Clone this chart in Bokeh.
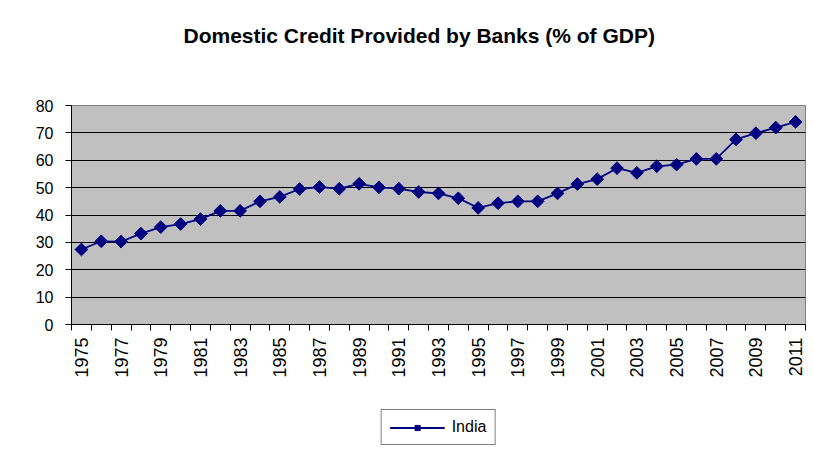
import math
from bokeh.plotting import figure
from bokeh.layouts import column
from bokeh.models import Range1d, FixedTicker, Legend, LegendItem, Title
from bokeh.embed import file_html
from bokeh.resources import INLINE

title_text = "Domestic Credit Provided by Banks (% of GDP)"
series_name = "India"
years = [1975, 1976, 1977, 1978, 1979, 1980, 1981, 1982, 1983, 1984, 1985, 1986,
         1987, 1988, 1989, 1990, 1991, 1992, 1993, 1994, 1995, 1996, 1997, 1998,
         1999, 2000, 2001, 2002, 2003, 2004, 2005, 2006, 2007, 2008, 2009, 2010, 2011]
credit = [27.4, 30.4, 30.3, 33.2, 35.6, 36.7, 38.5, 41.5, 41.5, 45.0, 46.6, 49.5,
          50.2, 49.6, 51.4, 50.1, 49.6, 48.4, 47.9, 46.1, 42.6, 44.3, 45.0, 45.0,
          47.9, 51.3, 53.1, 57.1, 55.4, 57.8, 58.4, 60.5, 60.5, 67.6, 69.9, 71.9, 74.0]
x_tick_labels = years[::2]
y_ticks = [0, 10, 20, 30, 40, 50, 60, 70, 80]

FONT = "Liberation Sans"
NAVY = "#000080"

p = figure(frame_width=734, frame_height=219, output_backend="svg", toolbar_location=None,
           x_range=Range1d(years[0] - 0.5, years[-1] + 0.5),
           y_range=Range1d(y_ticks[0], y_ticks[-1]),
           min_border_left=71, min_border_right=1, min_border_top=105, min_border_bottom=81)
p.title = None
spacer = Title(text=" ", text_font_size="1px", standoff=55)
t = Title(text=title_text, align="left", offset=112, standoff=0, vertical_align="middle",
          text_font=FONT, text_font_size="21px", text_font_style="bold", text_color="black")
p.add_layout(spacer, "above")
p.add_layout(t, "above")

p.background_fill_color = "#C0C0C0"
p.border_fill_color = "white"
p.outline_line_color = "#808080"
p.outline_line_width = 1

p.xgrid.visible = False
p.ygrid.grid_line_color = "black"
p.ygrid.grid_line_width = 1

boundaries = [y - 0.5 for y in years] + [years[-1] + 0.5]
p.xaxis.ticker = FixedTicker(ticks=x_tick_labels, minor_ticks=boundaries)
p.xaxis.major_tick_out = 0
p.xaxis.major_tick_in = 0
p.xaxis.minor_tick_out = 6
p.xaxis.minor_tick_in = 0
p.xaxis.minor_tick_line_color = "black"
p.xaxis.major_label_orientation = math.pi / 2
p.xaxis.major_label_standoff = 7

p.yaxis.ticker = FixedTicker(ticks=y_ticks)
p.yaxis.major_tick_out = 6
p.yaxis.major_tick_in = 0
p.yaxis.minor_tick_line_color = None
p.yaxis.major_label_standoff = 12

for ax in (p.xaxis, p.yaxis):
    ax.axis_line_color = "black"
    ax.major_tick_line_color = "black"
    ax.major_label_text_font = FONT
    ax.major_label_text_color = "black"
p.yaxis.major_label_text_font_size = "16px"
p.xaxis.major_label_text_font_size = "18px"

line = p.line(years, credit, line_color=NAVY, line_width=1.8)
pts = p.scatter(years, credit, marker="square", angle=math.pi / 4, size=9,
                fill_color=NAVY, line_color=NAVY)

# legend strip below the chart (its renderers share the series but lie outside its view)
lg = figure(frame_width=734, frame_height=44, output_backend="svg", toolbar_location=None,
            x_range=Range1d(0, 1), y_range=Range1d(0, 1),
            x_axis_location=None, y_axis_location=None,
            min_border_left=71, min_border_right=1, min_border_top=0, min_border_bottom=0)
lg.title = None
lg.grid.visible = False
lg.outline_line_color = None
lg.background_fill_color = "white"
lg.border_fill_color = "white"
lg_line = lg.line(years, credit, line_color=NAVY, line_width=1.8)
lg_pts = lg.scatter(years, credit, marker="square", angle=math.pi / 4, size=9,
                    fill_color=NAVY, line_color=NAVY)

legend = Legend(items=[LegendItem(label=series_name, renderers=[lg_line, lg_pts])],
                location="center", orientation="vertical",
                border_line_color="black", border_line_width=1,
                background_fill_color="white", background_fill_alpha=1,
                padding=8, spacing=0, margin=0,
                glyph_width=55, glyph_height=13, label_height=13, label_standoff=7,
                label_text_font=FONT, label_text_font_size="16px", label_text_color="black")
lg.add_layout(legend, "center")

layout = column(p, lg, spacing=0)
open("out.html", "w").write(file_html(layout, INLINE))
